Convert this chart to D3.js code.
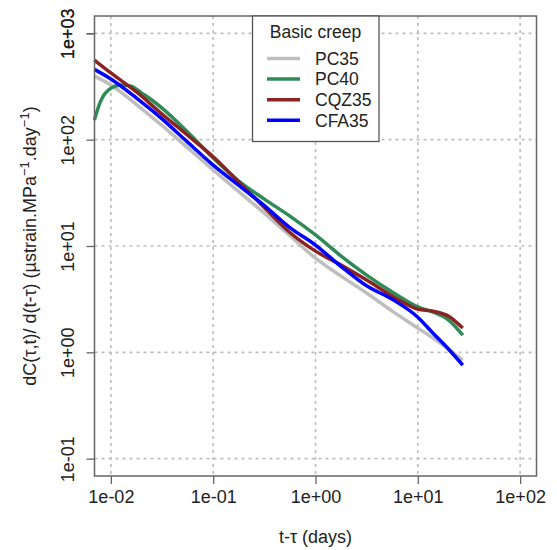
<!DOCTYPE html>
<html>
<head>
  <script src="https://d3js.org/d3.v7.min.js"></script>
  <style>
    body { margin: 0; background: #fff; }
    svg { font-family: "Liberation Sans", Arial, sans-serif; }
  </style>
</head>
<body>
  <svg id="chart"></svg>
  <script>
    // time since loading (days)
    const tDays = [0.0069, 0.01, 0.0178, 0.0316, 0.0562, 0.1, 0.178, 0.316, 0.562,
                   1, 1.78, 3.16, 5.62, 10, 14.1, 20, 27.5];
    // PC40 is sampled more finely at early ages (initial hook)
    const tDaysPC40 = [0.0069, 0.0079, 0.01, 0.0126, 0.0158, 0.02, 0.0251, 0.0316, 0.0562, 0.1,
                       0.178, 0.316, 0.562, 1, 1.78, 3.16, 5.62, 10, 14.1, 20, 27.5];

    // creep rate, µstrain/MPa/day
    const pc35  = [396, 327, 214, 136, 84.0, 51.8, 32.4, 20.4, 12.5,
                   7.69, 5.21, 3.61, 2.44, 1.69, 1.36, 1.07, 0.845];
    const pc40  = [153, 228, 305, 327, 319, 274, 236, 198, 118, 67.1,
                   40.8, 27.6, 19.1, 12.7, 8.04, 5.33, 3.69, 2.67, 2.39, 2.01, 1.45];
    const cqz35 = [561, 424, 281, 174, 110, 69.0, 39.9, 23.0, 13.4,
                   8.95, 6.61, 4.78, 3.38, 2.55, 2.44, 2.19, 1.69];
    const cfa35 = [458, 372, 246, 157, 94.9, 57.7, 37.2, 24.0, 14.9,
                   10.2, 6.41, 4.22, 3.15, 2.14, 1.51, 1.07, 0.759];

    const seriesNames = ["PC35", "PC40", "CQZ35", "CFA35"];
    const seriesColors = ["#bebebe", "#2e8b57", "#8b2323", "#0000ff"];
    const seriesValues = [pc35, pc40, cqz35, cfa35];
    const seriesDays = [tDays, tDaysPC40, tDays, tDays];

    const xTicks = [0.01, 0.1, 1, 10, 100];
    const yTicks = [0.1, 1, 10, 100, 1000];
    const tickLabels = {0.01: "1e-02", 0.1: "1e-01", 1: "1e+00", 10: "1e+01", 100: "1e+02", 1000: "1e+03"};

    const W = 557, H = 550;
    const plot = {left: 94.5, right: 536.5, top: 16, bottom: 476};

    const svg = d3.select("#chart").attr("width", W).attr("height", H);

    const x = d3.scaleLog()
      .domain([Math.pow(10, -2.16), Math.pow(10, 2.16)])
      .range([plot.left, plot.right]);
    const y = d3.scaleLog()
      .domain([Math.pow(10, -1.163), Math.pow(10, 3.163)])
      .range([plot.bottom, plot.top]);

    // dotted grid
    const grid = svg.append("g")
      .attr("stroke", "#bdbdbd")
      .attr("stroke-width", 1.6)
      .attr("stroke-dasharray", "3,4");
    grid.selectAll(".vx").data(xTicks).enter().append("line")
      .attr("x1", d => x(d)).attr("x2", d => x(d))
      .attr("y1", plot.top).attr("y2", plot.bottom);
    grid.selectAll(".hy").data(yTicks).enter().append("line")
      .attr("x1", plot.left).attr("x2", plot.right)
      .attr("y1", d => y(d)).attr("y2", d => y(d));

    // curves
    const line = d3.line()
      .x(d => x(d[0]))
      .y(d => y(d[1]))
      .curve(d3.curveMonotoneX);

    seriesValues.forEach(function(vals, i) {
      svg.append("path")
        .datum(seriesDays[i].map((t, j) => [t, vals[j]]))
        .attr("fill", "none")
        .attr("stroke", seriesColors[i])
        .attr("stroke-width", 3.5)
        .attr("stroke-linejoin", "round")
        .attr("d", line);
    });

    // axes
    const xAxis = d3.axisBottom(x).tickValues(xTicks).tickFormat(d => tickLabels[d])
      .tickSize(8).tickPadding(6);
    const gx = svg.append("g")
      .attr("transform", `translate(0,${plot.bottom})`)
      .call(xAxis);
    gx.select(".domain").remove();
    gx.selectAll("line").attr("stroke", "#666").attr("stroke-width", 1.3);
    gx.selectAll("text").attr("fill", "#222").style("font-size", "18px");

    const yAxis = d3.axisLeft(y).tickValues(yTicks.concat([1000])).tickFormat(d => tickLabels[d])
      .tickSize(8).tickPadding(6);
    const gy = svg.append("g")
      .attr("transform", `translate(${plot.left},0)`)
      .call(yAxis);
    gy.select(".domain").remove();
    gy.selectAll("line").attr("stroke", "#666").attr("stroke-width", 1.3);
    gy.selectAll("text")
      .attr("fill", "#222")
      .style("font-size", "18px")
      .attr("text-anchor", "middle")
      .attr("x", -27)
      .attr("dy", "0.35em")
      .attr("transform", "rotate(-90,-27,0)");

    // frame
    svg.append("rect")
      .attr("x", plot.left).attr("y", plot.top)
      .attr("width", plot.right - plot.left).attr("height", plot.bottom - plot.top)
      .attr("fill", "none").attr("stroke", "#666").attr("stroke-width", 1.5);

    // axis titles
    svg.append("text")
      .attr("x", (plot.left + plot.right) / 2).attr("y", 543)
      .attr("text-anchor", "middle").style("font-size", "18px").attr("fill", "#222")
      .text("t-τ (days)");

    const yl = svg.append("text")
      .attr("transform", `translate(36,${(plot.top + plot.bottom) / 2}) rotate(-90)`)
      .attr("text-anchor", "middle").style("font-size", "18px").attr("fill", "#222");
    yl.append("tspan").text("dC(τ,t)/ d(t-τ) (µstrain.MPa");
    yl.append("tspan").attr("dy", -7).style("font-size", "13px").text("−1");
    yl.append("tspan").attr("dy", 7).text(".day");
    yl.append("tspan").attr("dy", -7).style("font-size", "13px").text("−1");
    yl.append("tspan").attr("dy", 7).text(")");

    // legend
    const lg = svg.append("g");
    lg.append("rect")
      .attr("x", 252.5).attr("y", plot.top)
      .attr("width", 126.5).attr("height", 125.5)
      .attr("fill", "#fff").attr("stroke", "#555").attr("stroke-width", 1.3);
    lg.append("text")
      .attr("x", 315.5).attr("y", 38)
      .attr("text-anchor", "middle").style("font-size", "17.5px").attr("fill", "#222")
      .text("Basic creep");
    const rows = lg.selectAll(".row").data(seriesNames).enter().append("g")
      .attr("transform", (d, i) => `translate(0,${58.5 + i * 20.6})`);
    rows.append("line")
      .attr("x1", 267).attr("x2", 300).attr("y1", 0).attr("y2", 0)
      .attr("stroke", (d, i) => seriesColors[i]).attr("stroke-width", 3.5);
    rows.append("text")
      .attr("x", 315).attr("y", 0).attr("dy", "0.36em")
      .style("font-size", "17.5px").attr("fill", "#222")
      .text(d => d);
  </script>
</body>
</html>
